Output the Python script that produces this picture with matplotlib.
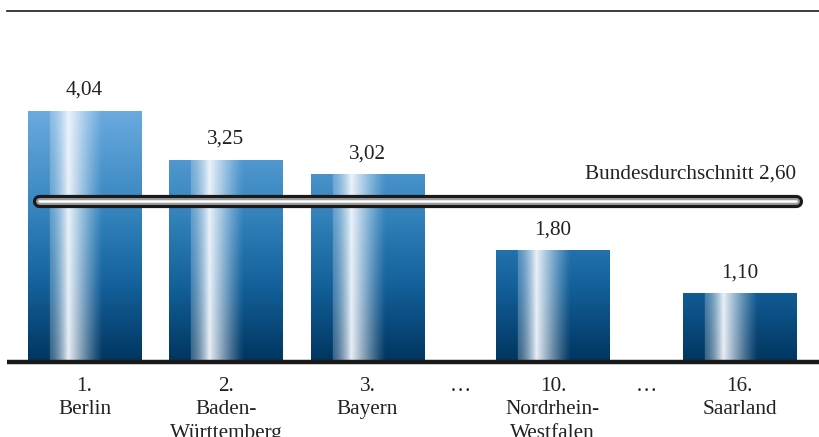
import numpy as np
import matplotlib
matplotlib.use("Agg")
import matplotlib.pyplot as plt
from matplotlib.colors import LinearSegmentedColormap, to_rgb

ranks = ["1.", "2.", "3.", "10.", "16."]
states = ["Berlin", "Baden-\nWürttemberg", "Bayern", "Nordrhein-\nWestfalen", "Saarland"]
values = [4.04, 3.25, 3.02, 1.80, 1.10]
value_labels = ["4,04", "3,25", "3,02", "1,80", "1,10"]
average = 2.60
average_label = "Bundesdurchschnitt 2,60"

# slot positions (gaps where "…" stands)
positions = [0, 1, 2, 3.31, 4.63]
gap_positions = [2.657, 3.97]
bar_width = 0.8

plt.rcParams['font.family'] = ['Liberation Serif', 'DejaVu Serif']
fs = 15.3

fig = plt.figure(figsize=(8.19, 4.37), dpi=100)
ax = fig.add_axes([0, 0, 1, 1])
ax.set_xlim(-0.597, 5.191)
ax.set_ylim(-1.208, 5.829)
ax.axis('off')

vmax = max(values)
cmap = LinearSegmentedColormap.from_list(
    "blues", [(0, "#00355f"), (0.3, "#13609a"), (0.6, "#3584bd"), (1.0, "#6aaadf")])

def highlight(u):
    h = np.zeros_like(u)
    a, p, b = 0.186, 0.354, 0.66
    m1 = (u >= a) & (u < p)
    h[m1] = 0.25 + 0.75 * ((u[m1] - a) / (p - a)) ** 1.5
    m2 = (u >= p) & (u <= b)
    h[m2] = (1 - (u[m2] - p) / (b - p)) ** 1.2
    return h

for x, v in zip(positions, values):
    ny, nx = 200, 120
    yy = np.linspace(v, 0, ny)
    base = cmap(yy / vmax)[:, :3]
    u = np.linspace(0, 1, nx)
    h = highlight(u) * 0.95
    white = np.array(to_rgb("#f4f7fc"))
    img = base[:, None, :] * (1 - h[None, :, None]) + white * h[None, :, None]
    ax.imshow(img, extent=(x - bar_width / 2, x + bar_width / 2, 0, v),
              aspect='auto', interpolation='bilinear', zorder=2)

for x, v, lab in zip(positions, values, value_labels):
    ax.text(x, v + 0.26, lab, ha='center', va='baseline', fontsize=fs, color='#222222')

for x, r, s in zip(positions, ranks, states):
    ax.text(x, -0.24, r + "\n" + s, ha='center', va='top', fontsize=fs,
            linespacing=1.32, color='#222222')
for gx in gap_positions:
    ax.text(gx, -0.24, "…", ha='center', va='top', fontsize=fs, color='#222222')

# baseline
ax.plot([-0.55, 5.2], [0, 0], color='#1a1a1a', lw=3.2, solid_capstyle='butt', zorder=3)

# average tube
x0 = positions[0] - bar_width / 2 + 0.08
x1 = positions[-1] + bar_width / 2
ax.plot([x0, x1], [average, average], color='#1a1a1a', lw=9.5, solid_capstyle='round', zorder=4)
ax.plot([x0, x1], [average, average], color='#9a9a9a', lw=5.0, solid_capstyle='round', zorder=5)
ax.plot([x0, x1], [average, average], color='#ffffff', lw=1.8, solid_capstyle='round', zorder=6)
ax.text(x1, 2.95, average_label, ha='right', va='baseline', fontsize=fs, color='#222222')

# top rule
ax.plot([-0.55, 5.2], [5.65, 5.65], color='#1a1a1a', lw=1.2)

fig.savefig("out.png", dpi=100)
